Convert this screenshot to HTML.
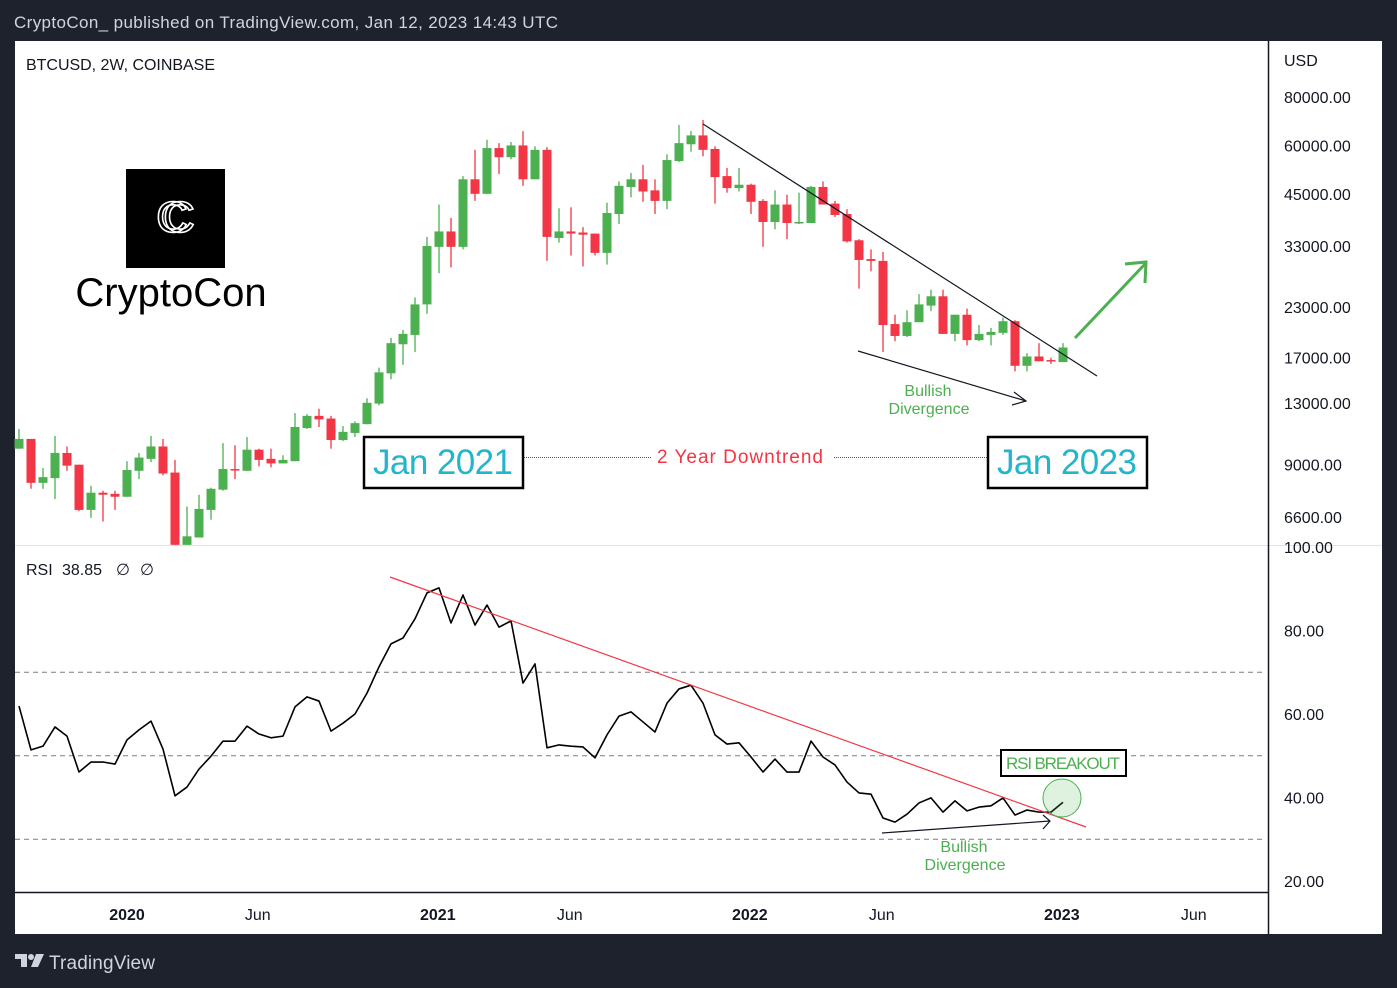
<!DOCTYPE html>
<html><head><meta charset="utf-8"><style>
html,body{margin:0;padding:0;background:#1e222d;}
svg{display:block;font-family:"Liberation Sans",sans-serif;}
</style></head><body>
<svg id="chart" width="1397" height="988" viewBox="0 0 1397 988" xmlns="http://www.w3.org/2000/svg">
<rect x="0" y="0" width="1397" height="988" fill="#1e222d"/>
<text x="14" y="28" fill="#d1d4dc" font-size="17" textLength="544">CryptoCon_ published on TradingView.com, Jan 12, 2023 14:43 UTC</text>
<rect x="15" y="41" width="1367" height="893" fill="#ffffff"/>
<line x1="15" y1="545.5" x2="1382" y2="545.5" stroke="#e0e3eb" stroke-width="1"/>
<line x1="1268.5" y1="41" x2="1268.5" y2="934" stroke="#131722" stroke-width="1.5"/>
<line x1="15" y1="892.5" x2="1268" y2="892.5" stroke="#131722" stroke-width="1.5"/>
<text x="26" y="70" fill="#131722" font-size="16" textLength="189">BTCUSD, 2W, COINBASE</text>
<text x="1284" y="66" fill="#131722" font-size="16">USD</text>
<text x="26" y="575" fill="#131722" font-size="16">RSI</text>
<text x="62" y="575" fill="#131722" font-size="16">38.85</text>
<text x="116" y="575" fill="#131722" font-size="16">∅</text>
<text x="140" y="575" fill="#131722" font-size="16">∅</text>
<g id="priceAxis"></g><g id="rsiAxis"></g><g id="timeAxis"></g>
<g id="rsiGrid"></g>
<g id="candles"></g>
<g id="rsiLine"></g>
<!-- logo -->
<rect x="126" y="169" width="99" height="99" fill="#000"/>
<text x="172" y="232" fill="none" stroke="#fff" stroke-width="1.6" font-size="44" text-anchor="middle">C</text>
<text x="179" y="232" fill="none" stroke="#fff" stroke-width="1.6" font-size="44" text-anchor="middle">C</text>
<text x="171" y="306" fill="#000" font-size="40" text-anchor="middle">CryptoCon</text>
<!-- price annotations -->
<line x1="703" y1="124" x2="1097" y2="376" stroke="#131722" stroke-width="1.2"/>
<line x1="858" y1="351" x2="1026" y2="401" stroke="#131722" stroke-width="1.2"/>
<polyline points="1014,392 1026,401 1012,405" fill="none" stroke="#131722" stroke-width="1.2"/>
<text x="928" y="396" fill="#4caf50" font-size="16" text-anchor="middle">Bullish</text>
<text x="929" y="414" fill="#4caf50" font-size="16" text-anchor="middle">Divergence</text>
<line x1="1075" y1="338" x2="1145" y2="264" stroke="#4caf50" stroke-width="3"/>
<polyline points="1125,264 1146,262 1145,283" fill="none" stroke="#4caf50" stroke-width="3"/>
<rect x="364" y="437" width="159" height="51" fill="#fff" stroke="#000" stroke-width="2.5"/>
<text x="443" y="474" fill="#22b5cc" font-size="35" text-anchor="middle" textLength="140">Jan 2021</text>
<rect x="988" y="437" width="159" height="51" fill="#fff" stroke="#000" stroke-width="2.5"/>
<text x="1067" y="474" fill="#22b5cc" font-size="35" text-anchor="middle" textLength="140">Jan 2023</text>
<line x1="524" y1="457.5" x2="651" y2="457.5" stroke="#555" stroke-width="1" stroke-dasharray="1,1"/>
<line x1="834" y1="457.5" x2="987" y2="457.5" stroke="#555" stroke-width="1" stroke-dasharray="1,1"/>
<text x="740" y="463" fill="#f23645" font-size="19" text-anchor="middle" textLength="166">2 Year Downtrend</text>
<!-- rsi annotations -->
<line x1="390" y1="577" x2="1086" y2="827" stroke="#f23645" stroke-width="1.2"/>
<line x1="882" y1="833" x2="1050" y2="821" stroke="#131722" stroke-width="1.2"/>
<polyline points="1043,815 1050,821 1043,829" fill="none" stroke="#131722" stroke-width="1.2"/>
<circle cx="1062" cy="798" r="19" fill="rgba(76,175,80,0.18)" stroke="#4caf50" stroke-width="1"/>
<rect x="1001" y="750" width="125" height="26" fill="#fff" stroke="#000" stroke-width="2"/>
<text x="1063" y="769" fill="#4caf50" font-size="17" text-anchor="middle" textLength="114">RSI BREAKOUT</text>
<text x="964" y="852" fill="#4caf50" font-size="16" text-anchor="middle">Bullish</text>
<text x="965" y="870" fill="#4caf50" font-size="16" text-anchor="middle">Divergence</text>
<!-- footer -->
<g>
<rect x="15" y="954" width="12" height="5" fill="#d1d4dc"/><rect x="21" y="954" width="6" height="13" fill="#d1d4dc"/><circle cx="31" cy="957" r="3" fill="#d1d4dc"/><polygon points="36,954 44,954 38,967 31,967" fill="#d1d4dc"/>
<text x="49" y="969" fill="#d1d4dc" font-size="19" textLength="106">TradingView</text>
</g>
</svg>
<script>
const open_ = [9900,10490,8080,8310,9650,9000,6880,7620,7570,7440,8680,9320,10030,8590,5590,5840,6880,7760,8770,8680,9840,9320,9070,9190,11190,12030,11840,10420,10870,11450,12940,15490,18410,19460,23330,32840,35990,32840,49060,45000,59060,55940,60000,49060,58440,34610,35990,35760,35530,31690,39920,46880,49060,45940,43150,54690,60410,63680,58750,50000,46560,47500,43150,38070,42230,37840,37840,46880,42460,39920,34150,30540,30210,20760,19340,20990,23160,24480,19580,21940,18870,19460,19700,21110,16200,17120,16760,16560];
const high_ = [11130,10490,8820,10680,10030,9000,7940,7710,7710,9190,9650,10680,10490,9260,7020,7530,7850,10230,10100,10610,9900,9900,9520,12230,12160,12550,12030,11320,11650,13360,16020,19120,20050,24310,34840,42230,38990,50000,58440,62040,60820,61220,65310,59690,59380,41300,41540,36920,35530,42690,48440,50940,53440,49060,56880,67760,65310,69800,59690,52500,52500,47810,43610,45940,44770,45310,47190,48440,43150,41070,34380,32340,31850,21940,22530,24800,25460,25460,21940,22760,20640,20290,21580,21230,17470,18530,17000,18530];
const low_ = [9900,7800,7800,7340,8680,6830,6560,6420,6880,7440,8260,9130,8450,5590,5590,5840,6490,7710,8260,8680,8910,8860,9070,9190,11130,11260,9900,10360,10610,11450,12810,14950,16290,17570,22060,28080,29060,32340,43150,45000,50630,55310,47190,49060,30210,33680,31200,29230,31200,29560,37610,44080,42920,39920,41070,54380,57810,56250,42460,45310,45630,39920,32840,36450,34380,37610,37840,42230,39230,33690,25620,28410,17590,18750,19220,20990,22410,19580,18750,18280,18750,18280,19460,15670,15670,16640,16380,16560];
const close_ = [10490,8080,8360,9650,8950,6880,7620,7530,7440,8720,9390,10030,8540,5590,5880,6920,7800,8770,8720,9840,9260,9070,9260,11260,12030,11780,10420,10940,11520,13000,15580,18530,19580,23330,33000,35990,32840,49060,45000,59060,55940,60000,49060,58440,34840,35990,35530,35300,31690,40150,47190,49060,45630,43150,55000,60820,63680,58440,49690,46560,47500,42920,38070,42230,37840,38070,46880,42230,39690,33920,30380,30210,20640,19340,20990,23330,24480,19580,21940,18870,19580,19810,21110,16200,17120,16640,16640,18060];
const rsi = [61.9,51.4,52.3,56.9,54.7,46.1,48.5,48.5,48.0,53.8,56.2,58.3,51.6,40.4,42.5,46.8,49.9,53.5,53.5,57.1,55.2,54.3,54.7,61.7,64.1,63.1,55.9,57.8,60.0,65.0,71.3,76.8,78.2,82.8,89.0,90.2,81.8,88.5,81.3,86.1,80.8,82.3,67.4,72.0,51.9,52.6,52.3,52.1,49.5,55.0,59.5,60.5,58.1,55.7,62.6,66.0,66.9,62.6,55.0,52.8,53.1,49.7,46.1,49.2,46.1,46.1,53.5,49.7,47.8,43.7,41.1,40.8,35.1,34.1,36.0,38.7,39.9,36.5,39.2,36.8,37.7,38.0,39.9,35.8,37.0,36.5,36.5,38.85];
const priceTicks = [80000,60000,45000,33000,23000,17000,13000,9000,6600];
const priceTickLabels = ["80000.00","60000.00","45000.00","33000.00","23000.00","17000.00","13000.00","9000.00","6600.00"];
const rsiTicks = [100,80,60,40,20];
const rsiTickLabels = ["100.00","80.00","60.00","40.00","20.00"];
const rsiBands = [70,50,30];
const timeTickIdx = [9,19.9,34.9,45.9,60.9,71.9,86.9,97.9];
const timeTickLabels = ["2020","Jun","2021","Jun","2022","Jun","2023","Jun"];

const NS = "http://www.w3.org/2000/svg";
function xOf(i){ return 19 + 12*i; }
function yPrice(p){ return 97 + (Math.log(80000) - Math.log(p)) * 168.3; }
function yRsi(v){ return 547 + (100 - v) * 4.175; }
function mk(tag, attrs, parent){ const e=document.createElementNS(NS,tag); for(const k in attrs) e.setAttribute(k,attrs[k]); parent.appendChild(e); return e; }

const pa = document.getElementById('priceAxis');
priceTicks.forEach((p,i)=>{
  const t = mk('text',{x:1284,y:yPrice(p)+6,fill:'#131722','font-size':16},pa);
  
  
  t.textContent = priceTickLabels[i];
});
const ra = document.getElementById('rsiAxis');
rsiTicks.forEach((v,i)=>{
  const t = mk('text',{x:1284,y:yRsi(v)+6,fill:'#131722','font-size':16},ra);
  
  
  t.textContent = rsiTickLabels[i];
});
const ta = document.getElementById('timeAxis');
timeTickIdx.forEach((ix,i)=>{
  const t = mk('text',{x:xOf(ix),y:920,fill:'#131722','font-size':16,'text-anchor':'middle','font-weight':(timeTickLabels[i]==='Jun'?'normal':'bold')},ta);
  
  
  t.textContent = timeTickLabels[i];
});
const rg = document.getElementById('rsiGrid');
rsiBands.forEach(v=>{
  const l = mk('line',{x1:15,x2:1263,y1:yRsi(v),y2:yRsi(v),stroke:'#787b86','stroke-width':1,'stroke-dasharray':'5,4'},rg);
  
  
});
const cg = document.getElementById('candles');
const clipTop = 41, clipBot = 545;
for(let i=0;i<open_.length;i++){
  const up = close_[i] >= open_[i];
  const col = up ? '#4caf50' : '#f23645';
  const x = xOf(i);
  const g = mk('g',{},cg);
  
  
  const yh = Math.max(clipTop, yPrice(high_[i])), yl = Math.min(clipBot, yPrice(low_[i]));
  mk('line',{x1:x,x2:x,y1:yh,y2:yl,stroke:col,'stroke-width':1.3},g);
  let yt = Math.max(clipTop, yPrice(Math.max(open_[i],close_[i])));
  let yb = Math.min(clipBot, yPrice(Math.min(open_[i],close_[i])));
  mk('rect',{x:x-4.5,y:yt,width:9,height:Math.max(1.5,yb-yt),fill:col},g);
}
const rl = document.getElementById('rsiLine');
const pts = rsi.map((v,i)=>xOf(i)+','+yRsi(v)).join(' ');
const pl = mk('polyline',{points:pts,fill:'none',stroke:'#000','stroke-width':1.6,'stroke-linejoin':'round'},rl);


</script>
</body></html>
